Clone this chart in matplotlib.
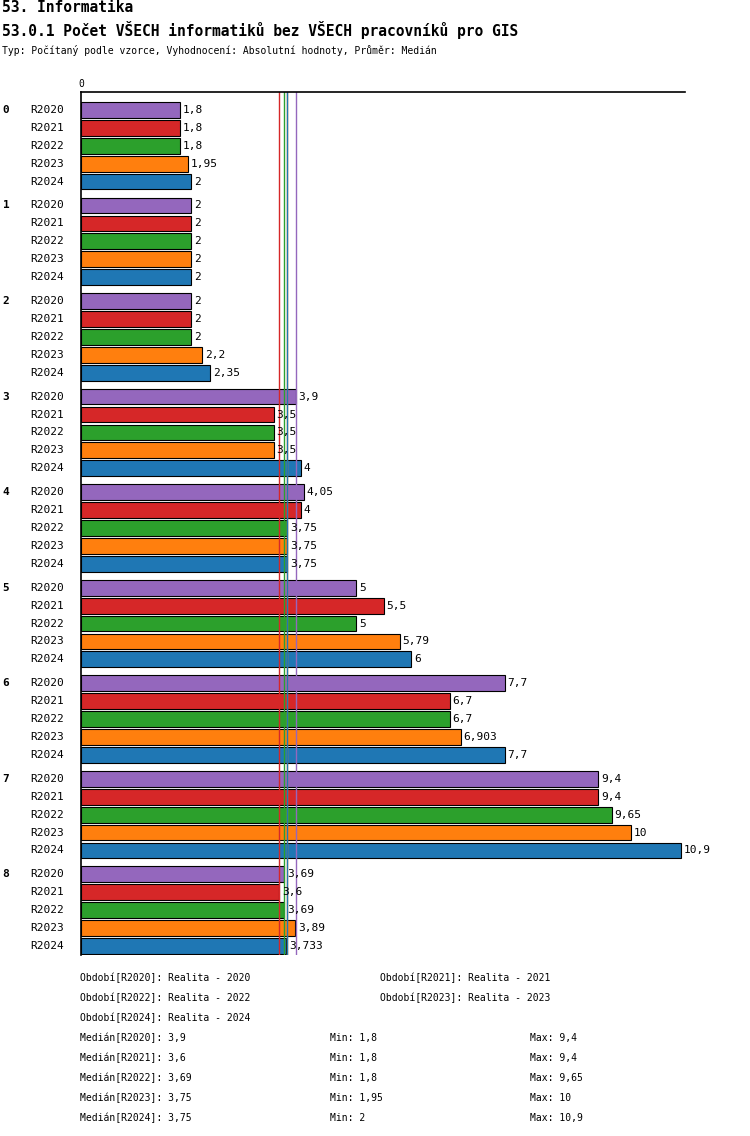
import numpy as np
import matplotlib.pyplot as plt

plt.rcParams['font.family'] = 'DejaVu Sans Mono'

groups = ['0', '1', '2', '3', '4', '5', '6', '7', '8']
series = ['R2020', 'R2021', 'R2022', 'R2023', 'R2024']
colors = ['#9467bd', '#d62728', '#2ca02c', '#ff7f0e', '#1f77b4']
values = {
    'R2020': [1.8, 2, 2, 3.9, 4.05, 5, 7.7, 9.4, 3.69],
    'R2021': [1.8, 2, 2, 3.5, 4, 5.5, 6.7, 9.4, 3.6],
    'R2022': [1.8, 2, 2, 3.5, 3.75, 5, 6.7, 9.65, 3.69],
    'R2023': [1.95, 2, 2.2, 3.5, 3.75, 5.79, 6.903, 10, 3.89],
    'R2024': [2, 2, 2.35, 4, 3.75, 6, 7.7, 10.9, 3.733],
}
labels = {
    'R2020': ['1,8', '2', '2', '3,9', '4,05', '5', '7,7', '9,4', '3,69'],
    'R2021': ['1,8', '2', '2', '3,5', '4', '5,5', '6,7', '9,4', '3,6'],
    'R2022': ['1,8', '2', '2', '3,5', '3,75', '5', '6,7', '9,65', '3,69'],
    'R2023': ['1,95', '2', '2,2', '3,5', '3,75', '5,79', '6,903', '10', '3,89'],
    'R2024': ['2', '2', '2,35', '4', '3,75', '6', '7,7', '10,9', '3,733'],
}
medians = {'R2020': 3.9, 'R2021': 3.6, 'R2022': 3.69, 'R2023': 3.75, 'R2024': 3.75}
mins = {'R2020': '1,8', 'R2021': '1,8', 'R2022': '1,8', 'R2023': '1,95', 'R2024': '2'}
maxs = {'R2020': '9,4', 'R2021': '9,4', 'R2022': '9,65', 'R2023': '10', 'R2024': '10,9'}
med_labels = {'R2020': '3,9', 'R2021': '3,6', 'R2022': '3,69', 'R2023': '3,75', 'R2024': '3,75'}

W, H = 750, 1136
fig = plt.figure(figsize=(W / 100, H / 100), dpi=100)
ax = fig.add_axes([81 / W, 1 - 955 / H, (685 - 81) / W, (955 - 92) / H])

step = 5.333
for i, s in enumerate(series):
    ys = np.arange(len(groups)) * step + i + 0.5
    ax.barh(ys, values[s], height=0.88, color=colors[i], edgecolor='black', linewidth=0.8)
    for y, v, lab in zip(ys, values[s], labels[s]):
        ax.text(v + 0.05, y, lab, va='center', ha='left', fontsize=8)
    for g, y in enumerate(ys):
        ax.text(-0.3, y, s, va='center', ha='right', fontsize=8)
for g, name in enumerate(groups):
    ax.text(-1.3, g * step + 0.5, name, va='center', ha='right', fontsize=8, fontweight='bold')

for s, c in zip(['R2021', 'R2022', 'R2023', 'R2024', 'R2020'],
                ['#d62728', '#2ca02c', '#ff7f0e', '#1f77b4', '#9467bd']):
    ax.axvline(medians[s], color=c, linewidth=1)

ax.set_xlim(0, 10.98)
ax.set_ylim((len(groups) - 1) * step + 5.0, -0.5)
for sp in ['right', 'bottom']:
    ax.spines[sp].set_visible(False)
ax.spines['left'].set_linewidth(1.2)
ax.spines['top'].set_linewidth(1.2)
ax.set_yticks([])
ax.xaxis.tick_top()
ax.set_xticks([0])
ax.set_xticklabels(['0'], fontsize=7)
ax.tick_params(axis='x', length=0, pad=2)

fig.text(2 / W, 1 - 8 / H, '53. Informatika', fontsize=10.5, fontweight='bold', va='center')
fig.text(2 / W, 1 - 30 / H, '53.0.1 Počet VŠECH informatiků bez VŠECH pracovníků pro GIS',
         fontsize=10.5, fontweight='bold', va='center')
fig.text(2 / W, 1 - 50 / H, 'Typ: Počítaný podle vzorce, Vyhodnocení: Absolutní hodnoty, Průměr: Medián',
         fontsize=7, va='center')

leg = [(80, 978, 'Období[R2020]: Realita - 2020'), (380, 978, 'Období[R2021]: Realita - 2021'),
       (80, 998, 'Období[R2022]: Realita - 2022'), (380, 998, 'Období[R2023]: Realita - 2023'),
       (80, 1018, 'Období[R2024]: Realita - 2024')]
for x, y, t in leg:
    fig.text(x / W, 1 - y / H, t, fontsize=7, va='center')
for k, s in enumerate(series):
    y = 1 - (1038 + 20 * k) / H
    fig.text(80 / W, y, f'Medián[{s}]: {med_labels[s]}', fontsize=7, va='center')
    fig.text(330 / W, y, f'Min: {mins[s]}', fontsize=7, va='center')
    fig.text(530 / W, y, f'Max: {maxs[s]}', fontsize=7, va='center')

fig.savefig('out.png', dpi=100)
